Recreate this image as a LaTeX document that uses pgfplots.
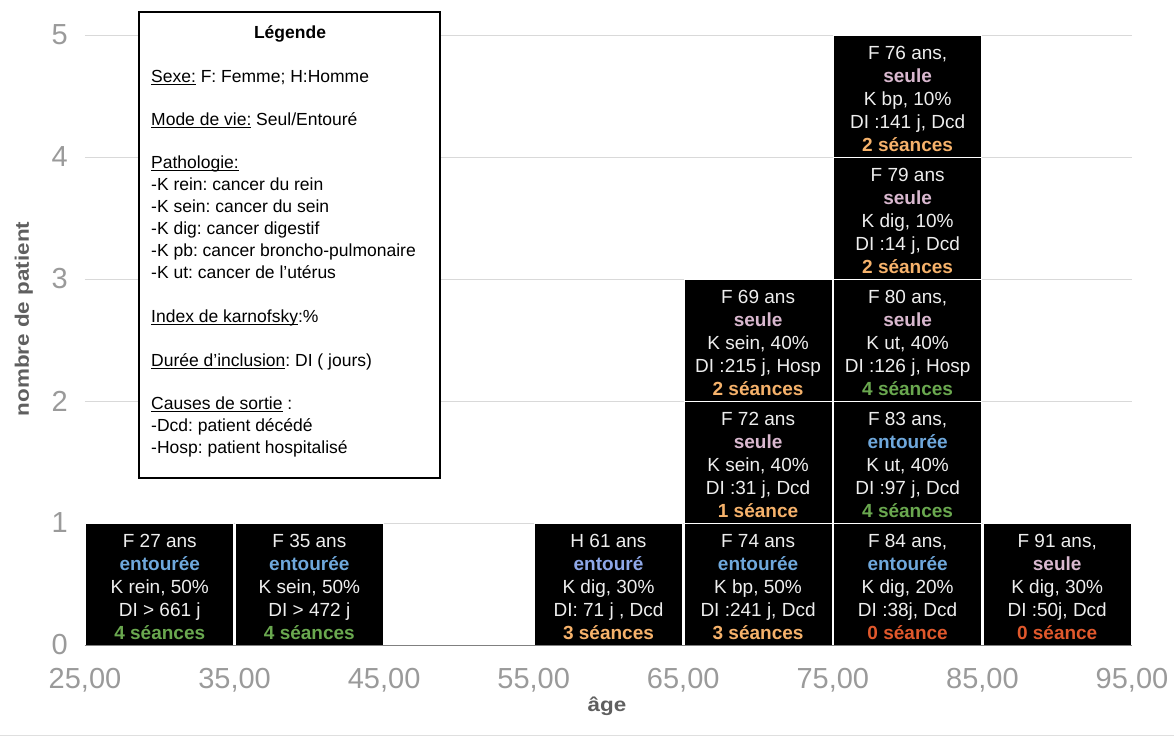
\documentclass[border=0pt]{standalone}
\usepackage{pgfplots}
\pgfplotsset{compat=1.18}
\usepackage{fontspec}
\setmainfont{Liberation Sans}
\newfontfamily\labfont[FakeStretch=1.15]{Liberation Sans}
\frenchspacing

\definecolor{tickgray}{HTML}{9A9A9A}
\definecolor{labgray}{HTML}{5F5F5F}
\definecolor{gridgray}{HTML}{D9D9D9}
\definecolor{entour}{HTML}{6FA8DC}
\definecolor{entourH}{HTML}{8FA8E8}
\definecolor{seule}{HTML}{D9B8CF}
\definecolor{sgreen}{HTML}{6AA84F}
\definecolor{sorange}{HTML}{F6B26B}
\definecolor{sred}{HTML}{E0582C}
\definecolor{txt}{HTML}{EEEEEE}

\tikzset{patient/.style={text=txt, font=\fontsize{19}{23}\selectfont, align=center, inner sep=0pt, yshift=-3pt}}
% texte d'un patient: ligne1, mode, couleur mode, patho, DI, seances, couleur seances
\newcommand\pat[7]{#1\\\textbf{\color{#3}#2}\\#4\\#5\\\textbf{\color{#7}#6}}
\newcommand\ul[1]{\setbox0\hbox{#1}\rlap{\rule[-2.4pt]{\wd0}{0.9pt}}\box0\relax}
\newcommand\legline[2]{\node[anchor=base west, inner sep=0pt, font=\fontsize{17.5}{21}\selectfont] at (66pt,#1pt) {#2};}

\begin{document}
\begin{tikzpicture}
\useasboundingbox (-85pt,-92pt) rectangle (1089pt,645pt);
\begin{axis}[
  at={(0pt,0pt)}, anchor=south west,
  scale only axis, width=1047pt, height=610pt,
  xmin=25, xmax=95, ymin=0, ymax=5,
  ybar stacked, bar width=9.9,
  axis line style={draw=none},
  major tick length=0pt,
  ymajorgrids, grid style={gridgray, line width=1pt},
  xtick={25,35,...,95},
  xticklabels={{25,00},{35,00},{45,00},{55,00},{65,00},{75,00},{85,00},{95,00}},
  ytick={0,...,5},
  /pgf/number format/assume math mode=true,
  ticklabel style={font=\fontsize{29}{29}\selectfont, text=tickgray},
  xticklabel style={anchor=north, inner sep=0pt, yshift=-23pt},
  yticklabel style={anchor=east, inner sep=0pt, xshift=-17pt},
  clip=false,
]
% un patient par couche
\addplot[fill=black, draw=white, line width=1pt] coordinates {(30,1) (40,1) (50,0) (60,1) (70,1) (80,1) (90,1)};
\addplot[fill=black, draw=white, line width=1pt] coordinates {(30,0) (40,0) (50,0) (60,0) (70,1) (80,1) (90,0)};
\addplot[fill=black, draw=white, line width=1pt] coordinates {(30,0) (40,0) (50,0) (60,0) (70,1) (80,1) (90,0)};
\addplot[fill=black, draw=white, line width=1pt] coordinates {(30,0) (40,0) (50,0) (60,0) (70,0) (80,1) (90,0)};
\addplot[fill=black, draw=white, line width=1pt] coordinates {(30,0) (40,0) (50,0) (60,0) (70,0) (80,1) (90,0)};

\coordinate (z0) at (axis cs:25,0);
\coordinate (z1) at (axis cs:95,0);
\coordinate (a1) at (axis cs:30,0.5);
\coordinate (b1) at (axis cs:40,0.5);
\coordinate (d1) at (axis cs:60,0.5);
\coordinate (e1) at (axis cs:70,0.5);
\coordinate (e2) at (axis cs:70,1.5);
\coordinate (e3) at (axis cs:70,2.5);
\coordinate (f1) at (axis cs:80,0.5);
\coordinate (f2) at (axis cs:80,1.5);
\coordinate (f3) at (axis cs:80,2.5);
\coordinate (f4) at (axis cs:80,3.5);
\coordinate (f5) at (axis cs:80,4.5);
\coordinate (g1) at (axis cs:90,0.5);
\end{axis}

\draw[gray, line width=1pt] (z0) -- (z1);
\node[patient] at (a1) {\pat{F 27 ans}{entourée}{entour}{K rein, 50\%}{DI > 661 j}{4 séances}{sgreen}};
\node[patient] at (b1) {\pat{F 35 ans}{entourée}{entour}{K sein, 50\%}{DI > 472 j}{4 séances}{sgreen}};
\node[patient] at (d1) {\pat{H 61 ans}{entouré}{entourH}{K dig, 30\%}{DI: 71 j , Dcd}{3 séances}{sorange}};
\node[patient] at (e1) {\pat{F 74 ans}{entourée}{entour}{K bp, 50\%}{DI :241 j, Dcd}{3 séances}{sorange}};
\node[patient] at (e2) {\pat{F 72 ans}{seule}{seule}{K sein, 40\%}{DI :31 j, Dcd}{1 séance}{sorange}};
\node[patient] at (e3) {\pat{F 69 ans}{seule}{seule}{K sein, 40\%}{DI :215 j, Hosp}{2 séances}{sorange}};
\node[patient] at (f1) {\pat{F 84 ans,}{entourée}{entour}{K dig, 20\%}{DI :38j, Dcd}{0 séance}{sred}};
\node[patient] at (f2) {\pat{F 83 ans,}{entourée}{entour}{K ut, 40\%}{DI :97 j, Dcd}{4 séances}{sgreen}};
\node[patient] at (f3) {\pat{F 80 ans,}{seule}{seule}{K ut, 40\%}{DI :126 j, Hosp}{4 séances}{sgreen}};
\node[patient] at (f4) {\pat{F 79 ans}{seule}{seule}{K dig, 10\%}{DI :14 j, Dcd}{2 séances}{sorange}};
\node[patient] at (f5) {\pat{F 76 ans,}{seule}{seule}{K bp, 10\%}{DI :141 j, Dcd}{2 séances}{sorange}};
\node[patient] at (g1) {\pat{F 91 ans,}{seule}{seule}{K dig, 30\%}{DI :50j, Dcd}{0 séance}{sred}};

% titres des axes
\node[rotate=90, anchor=base, inner sep=0pt, text=labgray, font=\labfont\bfseries\fontsize{19.5}{20}\selectfont] at (-56pt,326pt) {nombre de patient};
\node[anchor=base, inner sep=0pt, text=labgray, font=\labfont\bfseries\fontsize{19.5}{20}\selectfont] at (522pt,-66pt) {âge};
\draw[gray!25, line width=1pt] (-85pt,-90pt) -- (1089pt,-90pt);

% légende
\draw[black, line width=1.5pt, fill=white] (54pt,633pt) rectangle (355pt,167pt);
\node[anchor=base, inner sep=0pt, font=\bfseries\fontsize{17.5}{21}\selectfont] at (205pt,606pt) {Légende};
\legline{562}{\ul{Sexe:} F: Femme; H:Homme}
\legline{519}{\ul{Mode de vie:} Seul/Entouré}
\legline{476}{\ul{Pathologie:}}
\legline{454}{-K rein: cancer du rein}
\legline{432}{-K sein: cancer du sein}
\legline{410}{-K dig: cancer digestif}
\legline{388}{-K pb: cancer broncho-pulmonaire}
\legline{366}{-K ut: cancer de l’utérus}
\legline{323}{\ul{Index de karnofsky}:\%}
\legline{279}{\ul{Durée d’inclusion}: DI ( jours)}
\legline{236}{\ul{Causes de sortie} :}
\legline{214}{-Dcd: patient décédé}
\legline{192}{-Hosp: patient hospitalisé}
\end{tikzpicture}
\end{document}
